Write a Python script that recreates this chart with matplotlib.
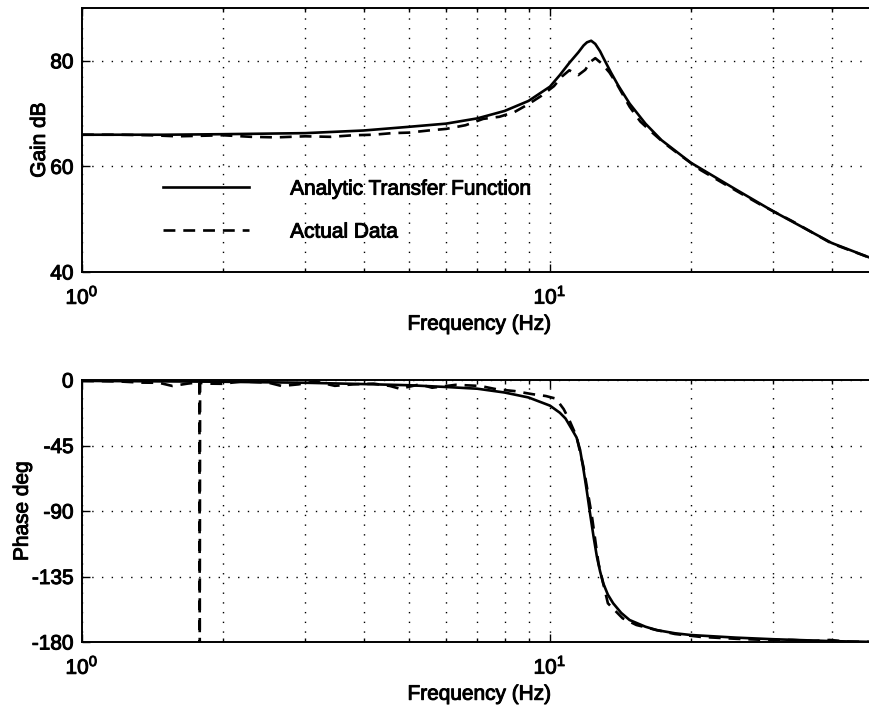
import numpy as np
import matplotlib.pyplot as plt
import matplotlib.patheffects as pe
from matplotlib.ticker import LogLocator, FixedLocator, NullFormatter

plt.rcParams['font.family'] = ['Liberation Sans', 'DejaVu Sans']
plt.rcParams['font.size'] = 15
plt.rcParams['axes.unicode_minus'] = False

# Analytic transfer function: gain and phase
tf_gain_freq = [1, 1.5, 2, 3, 4, 5, 6, 7, 8, 9, 10, 10.5, 11, 11.5, 11.8, 12.0,
                12.25, 12.5, 12.8, 13.0, 13.5, 14, 14.8, 16, 17.3, 20, 25, 30, 40, 50]
tf_gain_db = [66.0, 66.0, 66.1, 66.3, 66.8, 67.5, 68.1, 69.1, 70.5, 72.4, 75.1, 77.3,
              79.6, 81.6, 82.9, 83.5, 83.8, 83.2, 81.8, 80.6, 77.8, 75.3, 71.9, 68.1,
              65.0, 60.7, 55.6, 51.5, 45.5, 42.2]

tf_phase_freq = [1, 2, 3, 4, 5, 6, 7, 8, 9, 10, 10.5, 10.8, 11.1, 11.4, 11.6, 11.8,
                 12.0, 12.2, 12.4, 12.6, 12.8, 13.0, 13.3, 13.65, 14.2, 14.8, 16.0,
                 16.9, 18.5, 20, 25, 30, 40, 50]
tf_phase_deg = [-0.6, -1.2, -1.9, -2.8, -3.6, -4.8, -6.0, -8.6, -12.0, -17.6, -22.5,
                -26.5, -33.0, -39.5, -48.0, -61.8, -77.0, -93.0, -108.0, -121.4,
                -131.5, -139.7, -147.5, -153.4, -160.0, -164.9, -169.5, -171.8,
                -174.0, -175.2, -177.0, -178.1, -179.4, -180.0]

# Measured response
data_gain_freq = [1, 1.2, 1.4, 1.6, 1.8, 2.0, 2.3, 2.6, 3.0, 3.4, 3.8, 4.2, 4.6, 5.0,
                  5.5, 6.0, 6.6, 7.2, 7.8, 8.4, 9.0, 9.6, 10.2, 10.6, 11.0, 11.5,
                  11.9, 12.2, 12.5, 12.9, 13.4, 13.9, 14.8, 15.6, 16.5, 17.5, 19, 21,
                  24, 28, 33, 40, 50]
data_gain_db = [66.0, 66.0, 65.9, 65.7, 65.8, 65.9, 65.6, 65.5, 65.7, 65.6, 65.9,
                66.0, 66.3, 66.4, 66.8, 67.1, 67.8, 69.0, 69.4, 70.3, 71.8, 73.4,
                75.2, 77.0, 78.2, 77.3, 78.3, 79.8, 80.5, 79.5, 77.8, 75.6, 71.3,
                68.5, 66.5, 64.5, 62.1, 59.3, 56.3, 52.9, 49.6, 45.4, 42.2]

data_phase_freq = [1, 1.1, 1.2, 1.34, 1.46, 1.56, 1.68, 1.782, 1.785, 1.788, 1.87,
                   1.99, 2.2, 2.5, 2.67, 2.9, 3.15, 3.47, 3.8, 4.2, 4.55, 4.78, 5.27,
                   5.6, 6.3, 7.1, 7.7, 8.4, 9.2, 9.8, 10.3, 10.7, 11.0, 11.4, 11.8,
                   12.3, 12.7, 13.3, 14.3, 15.3, 16.9, 18.5, 21, 25, 29, 33, 36.5,
                   39.6, 43.7, 50]
data_phase_deg = [-0.7, -0.8, -1.0, -1.8, -1.9, -4.1, -2.5, -1.5, -182.0, -2.0,
                  -2.5, -2.6, -1.0, -1.8, -4.1, -3.0, -1.0, -4.0, -3.0, -2.5, -4.1,
                  -6.0, -3.0, -5.3, -3.3, -4.1, -6.4, -7.6, -9.8, -11.0, -12.8,
                  -20.0, -27.5, -38.9, -60.0, -94.0, -126.0, -153.4, -163.7,
                  -168.3, -171.8, -174.5, -176.5, -177.8, -178.6, -178.6, -179.3,
                  -178.6, -179.8, -180.0]

fig = plt.figure(figsize=(8.69, 7.07), dpi=100)
left = 82 / 869
width = 795 / 869
ax1 = fig.add_axes([left, 1 - 272 / 707, width, 264 / 707])
ax2 = fig.add_axes([left, 1 - 642 / 707, width, 262 / 707])

line_kw = dict(color='black', linewidth=1.9)
ax1.plot(tf_gain_freq, tf_gain_db, '-', label='Analytic Transfer Function', **line_kw)
ax1.plot(data_gain_freq, data_gain_db, '--', dashes=(4.5, 3), label='Actual Data', **line_kw)
ax2.plot(tf_phase_freq, tf_phase_deg, '-', **line_kw)
ax2.plot(data_phase_freq, data_phase_deg, '--', dashes=(4.5, 3), **line_kw)

heavy = [pe.withStroke(linewidth=0.7, foreground='black')]

for ax in (ax1, ax2):
    ax.set_xscale('log')
    ax.set_xlim(1, 50)
    ax.xaxis.set_major_locator(LogLocator(base=10))
    ax.xaxis.set_minor_locator(LogLocator(base=10, subs=np.arange(2, 10)))
    ax.xaxis.set_minor_formatter(NullFormatter())
    ax.grid(True, which='both', axis='x', color='black', linestyle=(0, (1, 6)), linewidth=1.0)
    ax.grid(True, which='major', axis='y', color='black', linestyle=(0, (1, 6)), linewidth=1.0)
    ax.tick_params(which='both', direction='in', top=True, right=True, width=1.0)
    ax.tick_params(which='major', length=6)
    ax.tick_params(which='minor', length=3)
    ax.tick_params(axis='y', pad=6)
    ax.tick_params(axis='x', pad=10)
    for s in ax.spines.values():
        s.set_linewidth(1.4)
    ax.set_xlabel('Frequency (Hz)', labelpad=5)

ax1.set_ylim(40, 90)
ax1.yaxis.set_major_locator(FixedLocator([40, 60, 80]))
ax1.set_ylabel('Gain dB', labelpad=1)

ax2.set_ylim(-180, 0)
ax2.yaxis.set_major_locator(FixedLocator([0, -45, -90, -135, -180]))
ax2.set_ylabel('Phase deg', labelpad=0)

leg = ax1.legend(loc='upper left', bbox_to_anchor=(0.102, 0.35), frameon=False,
                 handlelength=4.1, handletextpad=2.0, labelspacing=1.15, borderpad=0,
                 borderaxespad=0)

# thicken all text a little so it reads like the printed figure
fig.canvas.draw()
texts = list(leg.get_texts())
for ax in (ax1, ax2):
    texts += [ax.xaxis.label, ax.yaxis.label]
    texts += ax.get_xticklabels() + ax.get_yticklabels()
for t in texts:
    t.set_path_effects(heavy)

fig.savefig('out.png', dpi=100)
